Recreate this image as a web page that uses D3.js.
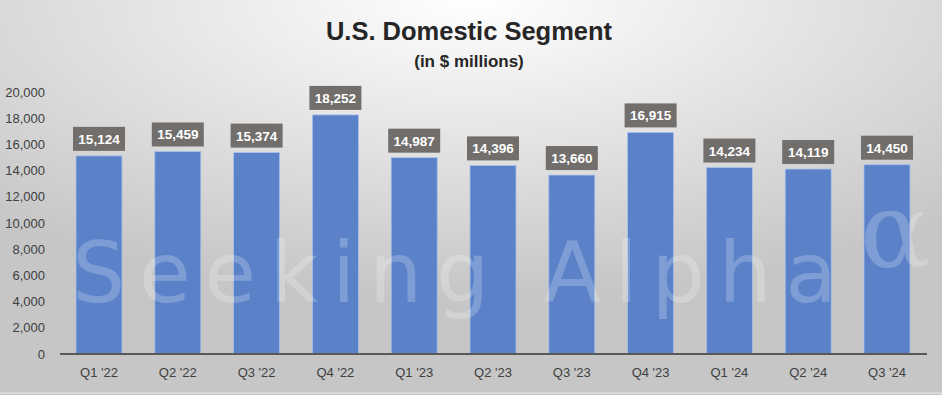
<!DOCTYPE html>
<html lang="en">
<head>
    <meta charset="UTF-8">
    <title>U.S. Domestic Segment</title>
    <script src="https://d3js.org/d3.v7.min.js"></script>
    <style>
        body { margin: 0; }
        svg { display: block; font-family: "Liberation Sans", Arial, sans-serif; }
    </style>
</head>
<body>
<svg width="942" height="395" class="chart"></svg>

<script>
    // data
    var quarters = ["Q1 '22", "Q2 '22", "Q3 '22", "Q4 '22", "Q1 '23", "Q2 '23", "Q3 '23", "Q4 '23", "Q1 '24", "Q2 '24", "Q3 '24"];
    var revenue = [15124, 15459, 15374, 18252, 14987, 14396, 13660, 16915, 14234, 14119, 14450];
    var yTicks = [0, 2000, 4000, 6000, 8000, 10000, 12000, 14000, 16000, 18000, 20000];

    var svg = d3.select("svg.chart"),
        width = +svg.attr("width"),
        height = +svg.attr("height");

    // background gradient
    var defs = svg.append("defs");
    var grad = defs.append("radialGradient")
        .attr("id", "bg")
        .attr("cx", "50%").attr("cy", "0%")
        .attr("r", "75%")
        .attr("fx", "50%").attr("fy", "0%");
    grad.append("stop").attr("offset", "0%").attr("stop-color", "#ffffff");
    grad.append("stop").attr("offset", "100%").attr("stop-color", "#c6c6c6");

    svg.append("rect")
        .attr("width", width)
        .attr("height", height)
        .attr("fill", "url(#bg)");

    svg.append("text")
        .attr("x", 469)
        .attr("y", 40)
        .attr("text-anchor", "middle")
        .attr("font-size", "25.5px")
        .attr("font-weight", "bold")
        .attr("fill", "#262626")
        .text("U.S. Domestic Segment");

    svg.append("text")
        .attr("x", 469)
        .attr("y", 67)
        .attr("text-anchor", "middle")
        .attr("font-size", "17px")
        .attr("font-weight", "bold")
        .attr("fill", "#262626")
        .text("(in $ millions)");

    var x = d3.scaleBand().domain(quarters).range([59.6, 926.4]).paddingInner(0.416).paddingOuter(0.208),
        y = d3.scaleLinear().domain([0, 20000]).range([354, 92]);

    var g = svg.append("g");

    // y axis labels only, no line
    var yAxis = g.append("g")
        .attr("transform", "translate(48,0)")
        .call(d3.axisLeft(y).tickValues(yTicks).tickSize(0).tickPadding(3).tickFormat(d3.format(",")));
    yAxis.select(".domain").remove();
    yAxis.selectAll("text")
        .attr("font-size", "13px")
        .attr("font-family", "Liberation Sans, Arial, sans-serif")
        .attr("fill", "#404040");

    g.selectAll(".bar")
        .data(revenue)
        .enter().append("rect")
        .attr("class", "bar")
        .attr("x", function (d, i) { return x(quarters[i]); })
        .attr("y", function (d) { return y(d); })
        .attr("width", x.bandwidth())
        .attr("height", function (d) { return y(0) - y(d); })
        .attr("fill", "#5b82c9")
        .attr("stroke", "#a8c2ea")
        .attr("stroke-width", 0.8);

    // watermark
    svg.append("text")
        .attr("x", 72)
        .attr("y", 302)
        .attr("font-size", "84px")
        .attr("font-family", "DejaVu Sans, sans-serif")
        .attr("fill", "#ffffff")
        .attr("fill-opacity", 0.22)
        .attr("textLength", 765)
        .attr("lengthAdjust", "spacing")
        .text("Seeking Alpha");
    svg.append("text")
        .attr("x", 860)
        .attr("y", 267)
        .attr("font-size", "104px")
        .attr("font-family", "DejaVu Serif, serif")
        .attr("fill", "#ffffff")
        .attr("fill-opacity", 0.22)
        .text("\u03b1");

    // x axis
    var xAxis = g.append("g")
        .attr("transform", "translate(0,354)")
        .call(d3.axisBottom(x).tickSize(0).tickPadding(14));
    xAxis.select(".domain")
        .attr("stroke", "#595959")
        .attr("stroke-width", 2)
        .attr("d", "M60,0H927");
    xAxis.selectAll("text")
        .attr("font-size", "13px")
        .attr("font-family", "Liberation Sans, Arial, sans-serif")
        .attr("fill", "#404040");

    // value labels
    var labels = g.selectAll(".lab")
        .data(revenue)
        .enter().append("g")
        .attr("class", "lab")
        .attr("transform", function (d, i) {
            return "translate(" + (x(quarters[i]) + x.bandwidth() / 2) + "," + (y(d) - 5) + ")";
        });
    labels.append("rect")
        .attr("x", -26)
        .attr("y", -24)
        .attr("width", 52)
        .attr("height", 24)
        .attr("fill", "#716e6c");
    labels.append("text")
        .attr("y", -7)
        .attr("text-anchor", "middle")
        .attr("font-size", "13.5px")
        .attr("font-weight", "bold")
        .attr("fill", "#ffffff")
        .text(function (d) { return d3.format(",")(d); });

    // faint line at the bottom edge
    svg.append("line")
        .attr("x1", 0).attr("x2", width)
        .attr("y1", 393).attr("y2", 393)
        .attr("stroke", "#e6e6e6")
        .attr("stroke-width", 1);
</script>
</body>
</html>
